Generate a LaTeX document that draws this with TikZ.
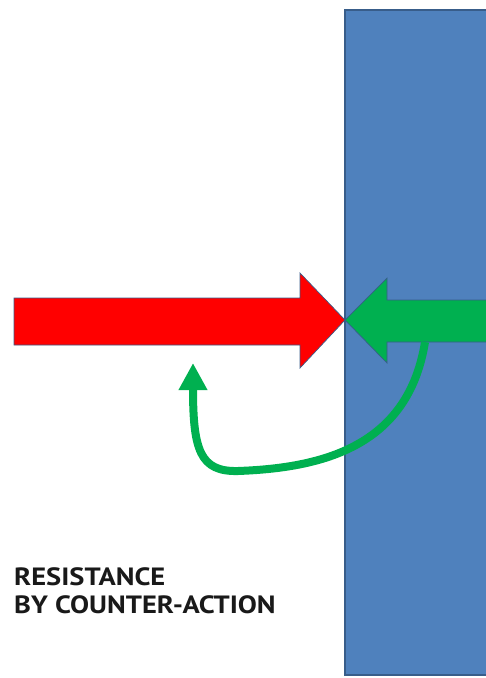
\documentclass[tikz,border=0pt]{standalone}
\usepackage{fontspec}
\setmainfont[FakeStretch=1.14]{PT Sans}
\usetikzlibrary{arrows.meta, positioning, calc}
\definecolor{wallblue}{HTML}{4F81BD}
\definecolor{walledge}{HTML}{385D8A}
\definecolor{pushred}{HTML}{FF0000}
\definecolor{pushgreen}{HTML}{00B050}
\tikzset{
    wall/.style={draw=walledge, line width=1.2pt, fill=wallblue},
    push/.style={draw=walledge, line width=0.7pt, line join=miter},
    recoil/.style={draw=pushgreen, line width=8pt, -{Triangle[length=27pt, width=27pt]}},
    caption/.style={align=left, font=\bfseries\fontsize{25}{28}\selectfont, inner sep=0pt, text=black!90}
}

\begin{document}
\begin{tikzpicture}[x=1pt, y=-1pt]
    \useasboundingbox (0,0) rectangle (486,678);

    % --- Wall ---
    \draw [wall] (345,10) rectangle (500,675);

    % --- Pushing arrows ---
    \coordinate (contact) at (345,320);
    \draw [push, fill=pushred] (14,298) -- (300,298) -- (300,273) -- (contact)
        -- (300,368) -- (300,345) -- (14,345) -- cycle;
    \fill [pushgreen] (500,300) -- (387,300) -- (387,278) -- (contact)
        -- (387,363) -- (387,342) -- (500,342) -- cycle;
    \draw [push] (500,300) -- (387,300) -- (387,278) -- (contact)
        -- (387,363) -- (387,342) -- (500,342);

    % --- Counter-action ---
    \coordinate (kick) at (425,342);
    \coordinate (back) at (193,363);
    \draw [recoil] (kick) .. controls (408,448) and (320,468) .. (238,471)
        .. controls (200,472) and (193,450) .. (back);

    % --- Caption ---
    \node (caption) [caption, anchor=north west] at (14,567) {RESISTANCE\\BY COUNTER-ACTION};
\end{tikzpicture}
\end{document}
